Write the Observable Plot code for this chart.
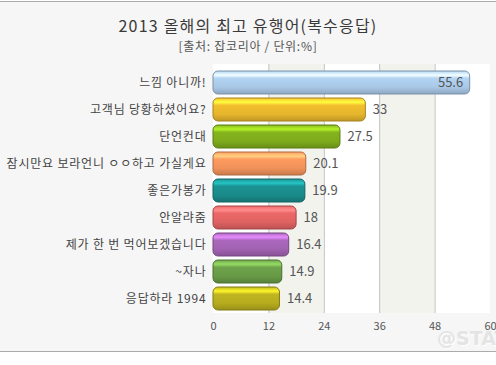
<!DOCTYPE html>
<html>
<head>
<meta charset="utf-8">
<script src="https://cdn.jsdelivr.net/npm/d3@7"></script>
<script src="https://cdn.jsdelivr.net/npm/@observablehq/plot@0.6"></script>
<style>
  body { margin: 0; background: #fff; }
  #wrap { position: relative; width: 496px; height: 365px; overflow: hidden; background: #fff; font-family: "Noto Sans CJK KR", "Noto Sans", sans-serif; }
  #frame { position: absolute; left: 0; top: 1px; width: 496px; height: 351px; box-sizing: border-box; border-top: 1px solid #ababab; border-bottom: 1px solid #ababab; background: #f6f6f6; }
  #title { position: absolute; left: 0; width: 496px; top: 17px; text-align: center; font-size: 16px; color: #3a3a3a; letter-spacing: 1.2px; line-height: 17px; }
  #subtitle { position: absolute; left: 0; width: 496px; top: 39px; text-align: center; font-size: 12px; color: #555; letter-spacing: 0.7px; line-height: 13px; }
  #chart { position: absolute; left: 0; top: 0; }
  #wm { position: absolute; left: 437px; top: 331px; font-family: "DejaVu Sans", sans-serif; font-weight: bold; font-size: 19px; line-height: 15px; color: #e4e4e4; white-space: nowrap; text-shadow: 1px 1px 0 #fff; }
  svg [aria-label^="y-axis"] text { font-size: 12px; fill: #444; letter-spacing: 0.8px; }
  svg [aria-label^="x-axis"] text { font-size: 11px; fill: #555; }
</style>
</head>
<body>
<div id="wrap">
  <div id="frame"></div>
  <div id="title">2013 올해의 최고 유행어(복수응답)</div>
  <div id="subtitle">[출처: 잡코리아 / 단위:%]</div>
  <div id="chart"></div>
  <div id="wm">@STAT</div>
</div>
<script>
const labels = ["느낌 아니까!", "고객님 당황하셨어요?", "단언컨대", "잠시만요 보라언니 ㅇㅇ하고 가실게요", "좋은가봉가", "안알랴줌", "제가 한 번 먹어보겠습니다", "~자나", "응답하라 1994"];
const values = [55.6, 33, 27.5, 20.1, 19.9, 18, 16.4, 14.9, 14.4];
const xTicks = [0, 12, 24, 36, 48, 60];

// styles
const palette = ["#a9c8e6", "#e6b52c", "#7eab1c", "#f0925a", "#1a8a8a", "#e06262", "#a262b2", "#689a46", "#b6ac1e"];
const bandFills = ["#ffffff", "#f3f3ee"];

const data = labels.map((label, i) => ({label, value: values[i], idx: i}));
const bands = xTicks.slice(0, -1).map((t, i) => ({x1: t, x2: xTicks[i + 1], i}));
const grid = xTicks.slice(1, -1);

const svg = Plot.plot({
  width: 496,
  height: 345,
  marginLeft: 213,
  marginRight: 6,
  marginTop: 67,
  marginBottom: 32,
  style: {background: "transparent", fontFamily: "'Noto Sans CJK KR', 'Noto Sans', sans-serif", overflow: "visible"},
  x: {domain: [0, 60], ticks: xTicks, tickSize: 0, tickPadding: 9, label: null},
  y: {domain: labels, paddingInner: 0.16, paddingOuter: 0.08, tickSize: 0, tickPadding: 7, label: null},
  color: {type: "identity"},
  marks: [
    Plot.rect(bands, {x1: "x1", x2: "x2", fill: d => bandFills[d.i % 2], insetTop: -3}),
    Plot.ruleX(grid, {stroke: "#c2c2c2", strokeWidth: 1, insetTop: -3}),
    Plot.barX(data, {x: "value", y: "label", fill: d => `url(#grad${d.idx})`, stroke: d => d3.color(palette[d.idx]).darker(0.9).formatHex(), strokeWidth: 1, rx: 5}),
    Plot.text(data.filter(d => d.value > 50), {x: "value", y: "label", text: d => String(d.value), textAnchor: "end", dx: -7, fill: "#555", fontSize: 13}),
    Plot.text(data.filter(d => d.value <= 50), {x: "value", y: "label", text: d => String(d.value), textAnchor: "start", dx: 7, fill: "#555", fontSize: 13})
  ]
});

// gradients for glossy bars
const ns = "http://www.w3.org/2000/svg";
const defs = document.createElementNS(ns, "defs");
palette.forEach((c, i) => {
  const col = d3.color(c);
  const g = document.createElementNS(ns, "linearGradient");
  g.setAttribute("id", "grad" + i);
  g.setAttribute("x1", "0"); g.setAttribute("y1", "0");
  g.setAttribute("x2", "0"); g.setAttribute("y2", "1");
  const stops = [
    [0, col.brighter(0.2)],
    [0.18, col.brighter(1.0)],
    [0.32, col.brighter(0.15)],
    [0.7, col],
    [1, col.darker(0.5)]
  ];
  stops.forEach(([o, cc]) => {
    const s = document.createElementNS(ns, "stop");
    s.setAttribute("offset", o);
    s.setAttribute("stop-color", cc.formatHex());
    g.appendChild(s);
  });
  defs.appendChild(g);
});
svg.insertBefore(defs, svg.firstChild);

document.getElementById("chart").appendChild(svg);
</script>
</body>
</html>
